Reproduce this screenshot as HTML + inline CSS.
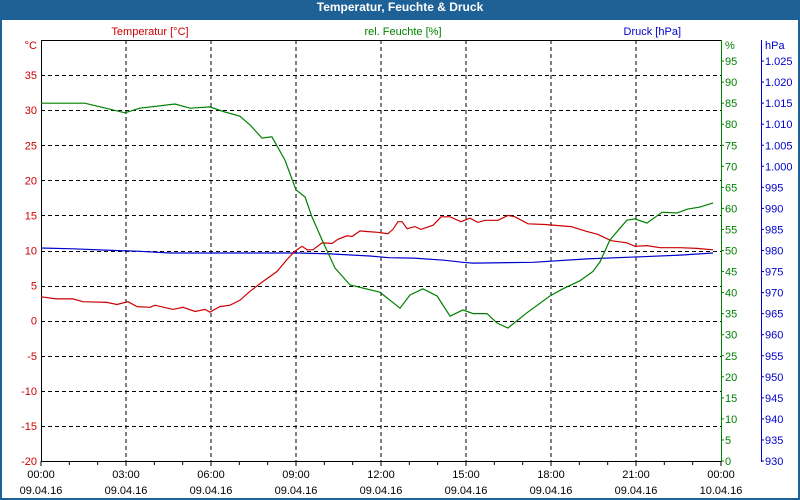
<!DOCTYPE html>
<html><head><meta charset="utf-8"><style>
html,body{margin:0;padding:0;background:#fff}
#wrap{position:relative;width:800px;height:500px;overflow:hidden;background:#1d6196}
#inner{position:absolute;left:2px;top:20px;width:796px;height:478px;background:#fff}
#title{position:absolute;left:0;top:0;width:800px;height:20px;line-height:20px;text-align:center;color:#fff;font:bold 12px "Liberation Sans",sans-serif}
svg{position:absolute;left:0;top:0}
text{font-family:"Liberation Sans",sans-serif;font-size:11px}
</style></head><body>
<div id="wrap">
<div id="title">Temperatur, Feuchte &amp; Druck</div>
<div id="inner"></div>
<svg id="chart" width="800" height="500"></svg>
</div>
<script>
const tempHours=[0,0.53,1.13,1.48,2.33,2.68,3.07,3.39,3.85,4.02,4.66,5.01,5.44,5.79,5.96,6.31,6.67,7.02,7.38,7.84,8.33,8.68,8.96,9.21,9.39,9.6,9.92,10.27,10.48,10.8,10.98,11.26,11.54,11.89,12.24,12.42,12.6,12.74,12.92,13.2,13.41,13.84,14.12,14.44,14.82,15.14,15.42,15.67,16.13,16.48,16.73,17.19,17.79,18.71,19.2,19.66,20.12,20.68,20.96,21.39,21.85,22.56,23.15,23.72];
const tempValues=[3.4,3.1,3.1,2.7,2.6,2.3,2.7,2.0,1.9,2.2,1.6,1.9,1.3,1.6,1.2,2.0,2.2,2.9,4.2,5.6,7.0,8.7,9.9,10.6,10.1,10.1,11.1,11.0,11.6,12.1,12.0,12.8,12.7,12.6,12.4,13.0,14.1,14.1,13.1,13.4,13.0,13.6,14.8,14.8,14.1,14.6,14.0,14.3,14.3,15.0,14.8,13.8,13.7,13.4,12.8,12.3,11.4,11.1,10.6,10.7,10.4,10.4,10.3,10.1];
const humHours=[0,1.55,2.96,3.49,4.73,5.26,5.96,6.49,7.02,7.38,7.8,8.15,8.61,9.0,9.32,9.56,9.92,10.38,10.91,11.96,12.67,13.02,13.48,13.98,14.44,14.89,15.25,15.74,16.09,16.48,17.15,17.96,18.42,19.02,19.48,19.73,20.08,20.68,20.96,21.39,21.92,22.45,22.8,23.26,23.72];
const humValues=[85.0,85.0,82.7,83.8,84.8,83.8,84.1,82.9,81.9,79.8,76.7,77.0,71.5,64.4,62.7,58.0,52.5,45.8,41.8,40.1,36.3,39.4,40.9,39.2,34.4,35.9,35.0,35.0,32.8,31.6,35.2,39.2,40.9,42.8,45.0,47.3,52.5,57.2,57.5,56.5,59.1,58.9,59.8,60.3,61.3];
const presHours=[0,1.13,2.61,3.49,4.55,6.14,7.73,9.14,10.2,11.61,12.28,13.16,14.22,14.89,15.25,17.36,19.27,21.14,22.56,23.72];
const presValues=[980.6,980.4,980.0,979.8,979.4,979.4,979.4,979.4,979.2,978.7,978.3,978.2,977.7,977.2,977.0,977.2,978.0,978.5,978.9,979.4];
const tempTicks=[35,30,25,20,15,10,5,0,-5,-10,-15,-20];
const humTicks=[95,90,85,80,75,70,65,60,55,50,45,40,35,30,25,20,15,10,5,0];
const presTicks=["1.025","1.020","1.015","1.010","1.005","1.000","995","990","985","980","975","970","965","960","955","950","945","940","935","930"];
const timeLabels=["00:00","03:00","06:00","09:00","12:00","15:00","18:00","21:00","00:00"];
const dateLabels=["09.04.16","09.04.16","09.04.16","09.04.16","09.04.16","09.04.16","09.04.16","09.04.16","10.04.16"];

const L=41,R=721,T=40,B=461;
const NS='http://www.w3.org/2000/svg';
const svg=document.getElementById('chart');
const xS=h=>L+h/24*(R-L);
const yT=v=>B-(v+20)/60*(B-T);
const yH=v=>B-v/100*(B-T);
const yP=v=>B-(v-930)/100*(B-T);
function mk(tag,attrs,parent){const e=document.createElementNS(NS,tag);for(const k in attrs)e.setAttribute(k,attrs[k]);(parent||svg).appendChild(e);return e;}
const grid=mk('g',{});


for(let i=1;i<8;i++){const l=mk('line',{x1:xS(i*3),x2:xS(i*3),y1:T,y2:B,stroke:'#000','stroke-dasharray':'4,3'},grid);

}
tempTicks.forEach(v=>{if(v>-20){const l=mk('line',{x1:L,x2:R,y1:Math.round(yT(v))+0.5,y2:Math.round(yT(v))+0.5,stroke:'#000','stroke-dasharray':'4,3'},grid);

}});
// axes
const ax=mk('g',{});


mk('line',{x1:L+0.5,x2:L+0.5,y1:T,y2:B,stroke:'#000'},ax);
mk('line',{x1:L,x2:R,y1:T+0.5,y2:T+0.5,stroke:'#000'},ax);
mk('line',{x1:L,x2:R,y1:B+0.5,y2:B+0.5,stroke:'#000'},ax);
mk('line',{x1:R+0.5,x2:R+0.5,y1:T,y2:B+1,stroke:'#008000'},ax);
mk('line',{x1:761.5,x2:761.5,y1:T,y2:B+1,stroke:'#0000cc'},ax);
for(let h=0;h<=24;h++){mk('line',{x1:xS(h),x2:xS(h),y1:B,y2:B+(h%3==0?5:4),stroke:'#000'},ax);}
function txt(s,x,y,fill,anchor,name){const t=mk('text',{x:x,y:y,fill:fill,'text-anchor':anchor});t.textContent=s;

return t;}
tempTicks.forEach(v=>txt(String(v),37,yT(v)+4,'#cc0000','end','temp-tick-label'));
txt('°C',37,49,'#cc0000','end','temp-axis-unit');
humTicks.forEach(v=>{txt(String(v),725,yH(v)+4,'#008000','start','humidity-tick-label');mk('line',{x1:R,x2:R+3,y1:yH(v),y2:yH(v),stroke:'#008000'},ax);});
txt('%',725,49,'#008000','start','humidity-axis-unit');
presTicks.forEach((s,i)=>{const v=1025-i*5;txt(s,765,yP(v)+4,'#0000cc','start','pressure-tick-label');mk('line',{x1:761,x2:764,y1:yP(v),y2:yP(v),stroke:'#0000cc'},ax);});
txt('hPa',765,49,'#0000cc','start','pressure-axis-unit');
timeLabels.forEach((s,i)=>{txt(s,xS(i*3),478,'#000','middle','time-tick-label');txt(dateLabels[i],xS(i*3),494,'#000','middle','date-tick-label');});
txt('Temperatur [°C]',150,35,'#cc0000','middle','legend-temperature');
txt('rel. Feuchte [%]',403,35,'#008000','middle','legend-humidity');
txt('Druck [hPa]',681,35,'#0000cc','end','legend-pressure');
function series(hs,vs,yf,color,name){const d=hs.map((h,i)=>(i?'L':'M')+xS(h).toFixed(1)+','+yf(vs[i]).toFixed(1)).join(' ');
const p=mk('path',{d:d,fill:'none',stroke:color,'stroke-width':1.2});

}
series(presHours,presValues,yP,'#0000cc','pressure-line');
series(tempHours,tempValues,yT,'#cc0000','temperature-line');
series(humHours,humValues,yH,'#008000','humidity-line');
</script>
</body></html>
